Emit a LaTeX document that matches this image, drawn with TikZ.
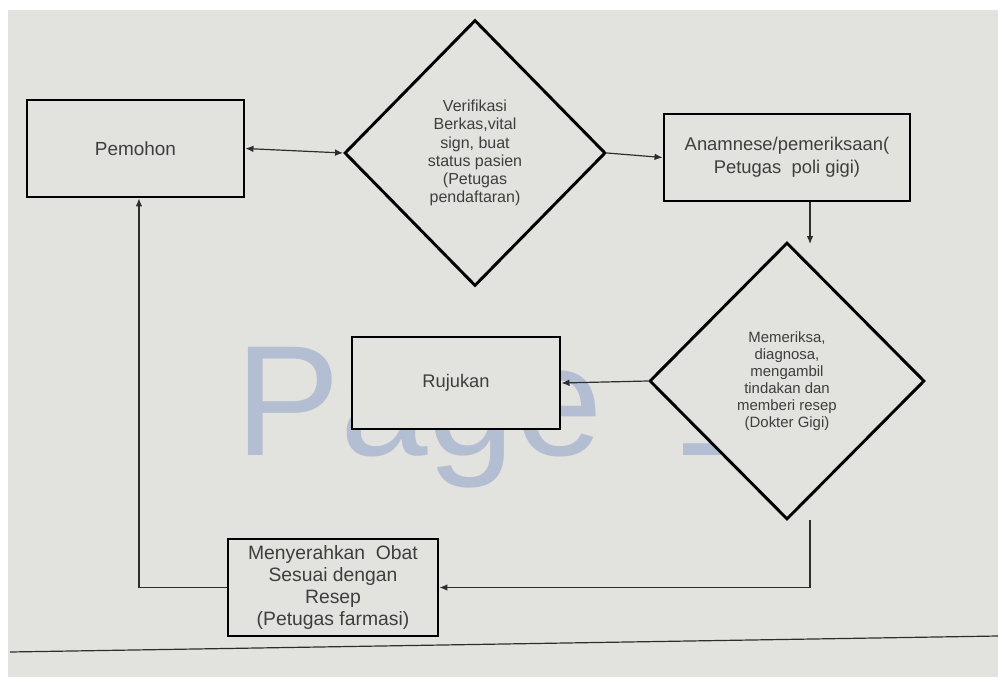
\documentclass[tikz,border=0pt]{standalone}
\usepackage{fontspec}
\setmainfont{Liberation Sans}
\usetikzlibrary{shapes.geometric,arrows.meta}
\definecolor{bg}{RGB}{226,226,222}
\definecolor{wm}{RGB}{180,190,210}
\definecolor{txt}{RGB}{62,62,62}
\definecolor{ln}{RGB}{45,45,45}
\def\px{0.75pt}
\begin{document}
\begin{tikzpicture}[x=0.75pt,y=-0.75pt,
  >={Latex[length=6pt,width=5pt]},
  box/.style={draw=black,line width=2.2pt,fill=bg,text=txt,align=center,inner sep=0pt},
  dia/.style={diamond,draw=black,line width=2.2pt,fill=bg,text=txt,align=center,inner sep=0pt},
  conn/.style={draw=ln,line width=0.9pt,->}]
\useasboundingbox (0,0) rectangle (998,677);
\fill[white] (0,0) rectangle (998,677);
\fill[bg] (8,10) rectangle (998,677);
\draw[ln,line width=0.9pt] (10,652) -- (998,636);
% watermark
\node[anchor=base west,text=wm,inner sep=0pt,font=\fontsize{118pt}{118pt}\selectfont] (wmk) at (235,455) {Page\hspace{19pt} 1};
% nodes
\node[box,minimum width=217*\px,minimum height=97*\px,font=\fontsize{14.2pt}{17pt}\selectfont] (pem) at (135.5,148.5) {Pemohon};
\node[dia,minimum width=261*\px,minimum height=266*\px,font=\fontsize{12pt}{13.7pt}\selectfont] (d1) at (475,153) {Verifikasi\\Berkas,vital\\sign, buat\\status pasien\\(Petugas\\pendaftaran)};
\node[box,minimum width=246*\px,minimum height=87*\px,font=\fontsize{13.8pt}{17.2pt}\selectfont] (ana) at (787,157.5) {Anamnese/pemeriksaan(\\Petugas\ \ poli gigi)};
\node[dia,minimum width=275*\px,minimum height=277*\px,font=\fontsize{11.2pt}{12.8pt}\selectfont] (d2) at (787,381) {Memeriksa,\\diagnosa,\\mengambil\\tindakan dan\\memberi resep\\(Dokter Gigi)};
\node[box,minimum width=208*\px,minimum height=92*\px,font=\fontsize{13.7pt}{16pt}\selectfont] (ruj) at (456,383) {Rujukan};
\node[box,minimum width=210*\px,minimum height=97*\px,font=\fontsize{14.5pt}{16.5pt}\selectfont] (men) at (333,587.5) {Menyerahkan\ \ Obat\\Sesuai dengan\\Resep\\(Petugas farmasi)};
% free ends
\coordinate (a2) at (810,244);
\coordinate (b1) at (810,520);
% connectors
\draw[conn,<->] (pem.east) -- (d1.west);
\draw[conn] (d1.east) -- (ana.west);
\draw[conn] (ana.south -| a2) -- (a2);
\draw[conn] (d2.west) -- (ruj.east);
\draw[conn] (b1) |- (men.east);
\draw[conn] (men.west) -| ([xshift=2.6pt]pem.south);
\end{tikzpicture}
\end{document}
